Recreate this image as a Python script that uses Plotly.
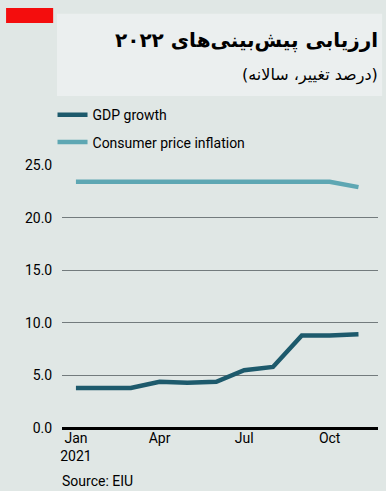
import plotly.graph_objects as go

# Monthly forecasts for 2022, tracked through 2021 (% change, annual)
months = ["2021-01-01", "2021-02-01", "2021-03-01", "2021-04-01", "2021-05-01",
          "2021-06-01", "2021-07-01", "2021-08-01", "2021-09-01", "2021-10-01",
          "2021-11-01"]
gdp_growth = [3.8, 3.8, 3.8, 4.4, 4.3, 4.4, 5.5, 5.8, 8.8, 8.8, 8.9]
cpi_inflation = [23.4, 23.4, 23.4, 23.4, 23.4, 23.4, 23.4, 23.4, 23.4, 23.4, 22.9]

tick_vals = ["2021-01-01", "2021-04-01", "2021-07-01", "2021-10-01"]
tick_text = ["Jan<br>2021", "Apr", "Jul", "Oct"]
y_ticks = [0, 5, 10, 15, 20, 25]
y_text = ["0.0", "5.0", "10.0", "15.0", "20.0", "25.0"]

BG = "#e0e7e5"
FONT = "Roboto, Arial, sans-serif"

fig = go.Figure()
fig.add_trace(go.Scatter(x=months, y=gdp_growth, mode="lines", name="GDP growth",
                         line=dict(color="#1d5a6c", width=4.5), legendgroup="a"))
fig.add_trace(go.Scatter(x=months, y=cpi_inflation, mode="lines",
                         name="Consumer price inflation",
                         line=dict(color="#5ea7b3", width=4.5), legendgroup="b"))

# panel decoration: header box and red tab
fig.add_shape(type="rect", xref="paper", yref="paper", x0=-0.016, x1=1.013,
              y0=1.262, y1=1.575, fillcolor="#ebefef", line=dict(width=0), layer="below")
fig.add_shape(type="rect", xref="paper", yref="paper", x0=-0.177, x1=-0.028,
              y0=1.540, y1=1.597, fillcolor="#f40d0d", line=dict(width=0))

fig.add_annotation(text="<b>ارزیابی پیش‌بینی‌های ۲۰۲۲</b>", xref="paper", yref="paper",
                   x=1.006, y=1.475, xanchor="right", yanchor="middle", showarrow=False,
                   font=dict(size=20, color="#000", family="DejaVu Sans"))
fig.add_annotation(text="(درصد تغییر، سالانه)", xref="paper", yref="paper",
                   x=1.006, y=1.342, xanchor="right", yanchor="middle", showarrow=False,
                   font=dict(size=16, color="#000", family="DejaVu Sans"))
fig.add_annotation(text="Source: EIU", xref="paper", yref="paper",
                   x=-0.006, y=-0.2, xanchor="left", yanchor="middle", showarrow=False,
                   font=dict(size=14, color="#000", family=FONT))

fig.update_layout(
    width=386, height=491,
    margin=dict(l=62, r=8, t=165, b=63),
    paper_bgcolor=BG, plot_bgcolor=BG,
    font=dict(family=FONT, size=14, color="#000"),
    showlegend=True,
    legend=dict(x=-0.03, y=1.25, xanchor="left", yanchor="top",
                bgcolor="rgba(0,0,0,0)", font=dict(size=14, family=FONT, color="#000"),
                tracegroupgap=6, itemwidth=30),
    xaxis=dict(type="date", range=["2020-12-17", "2021-11-22"],
               tickvals=tick_vals, ticktext=tick_text, showgrid=False,
               zeroline=False, showline=False, ticks="",
               tickfont=dict(size=14, color="#000")),
    yaxis=dict(range=[0, 25], tickvals=y_ticks, ticktext=y_text,
               showgrid=True, gridcolor="#737b7d", gridwidth=1.3,
               zeroline=True, zerolinecolor="#000", zerolinewidth=2.5,
               ticks="outside", ticklen=6, tickcolor="rgba(0,0,0,0)",
               tickfont=dict(size=14, color="#000"), fixedrange=True),
)

fig.write_html("out.html")
